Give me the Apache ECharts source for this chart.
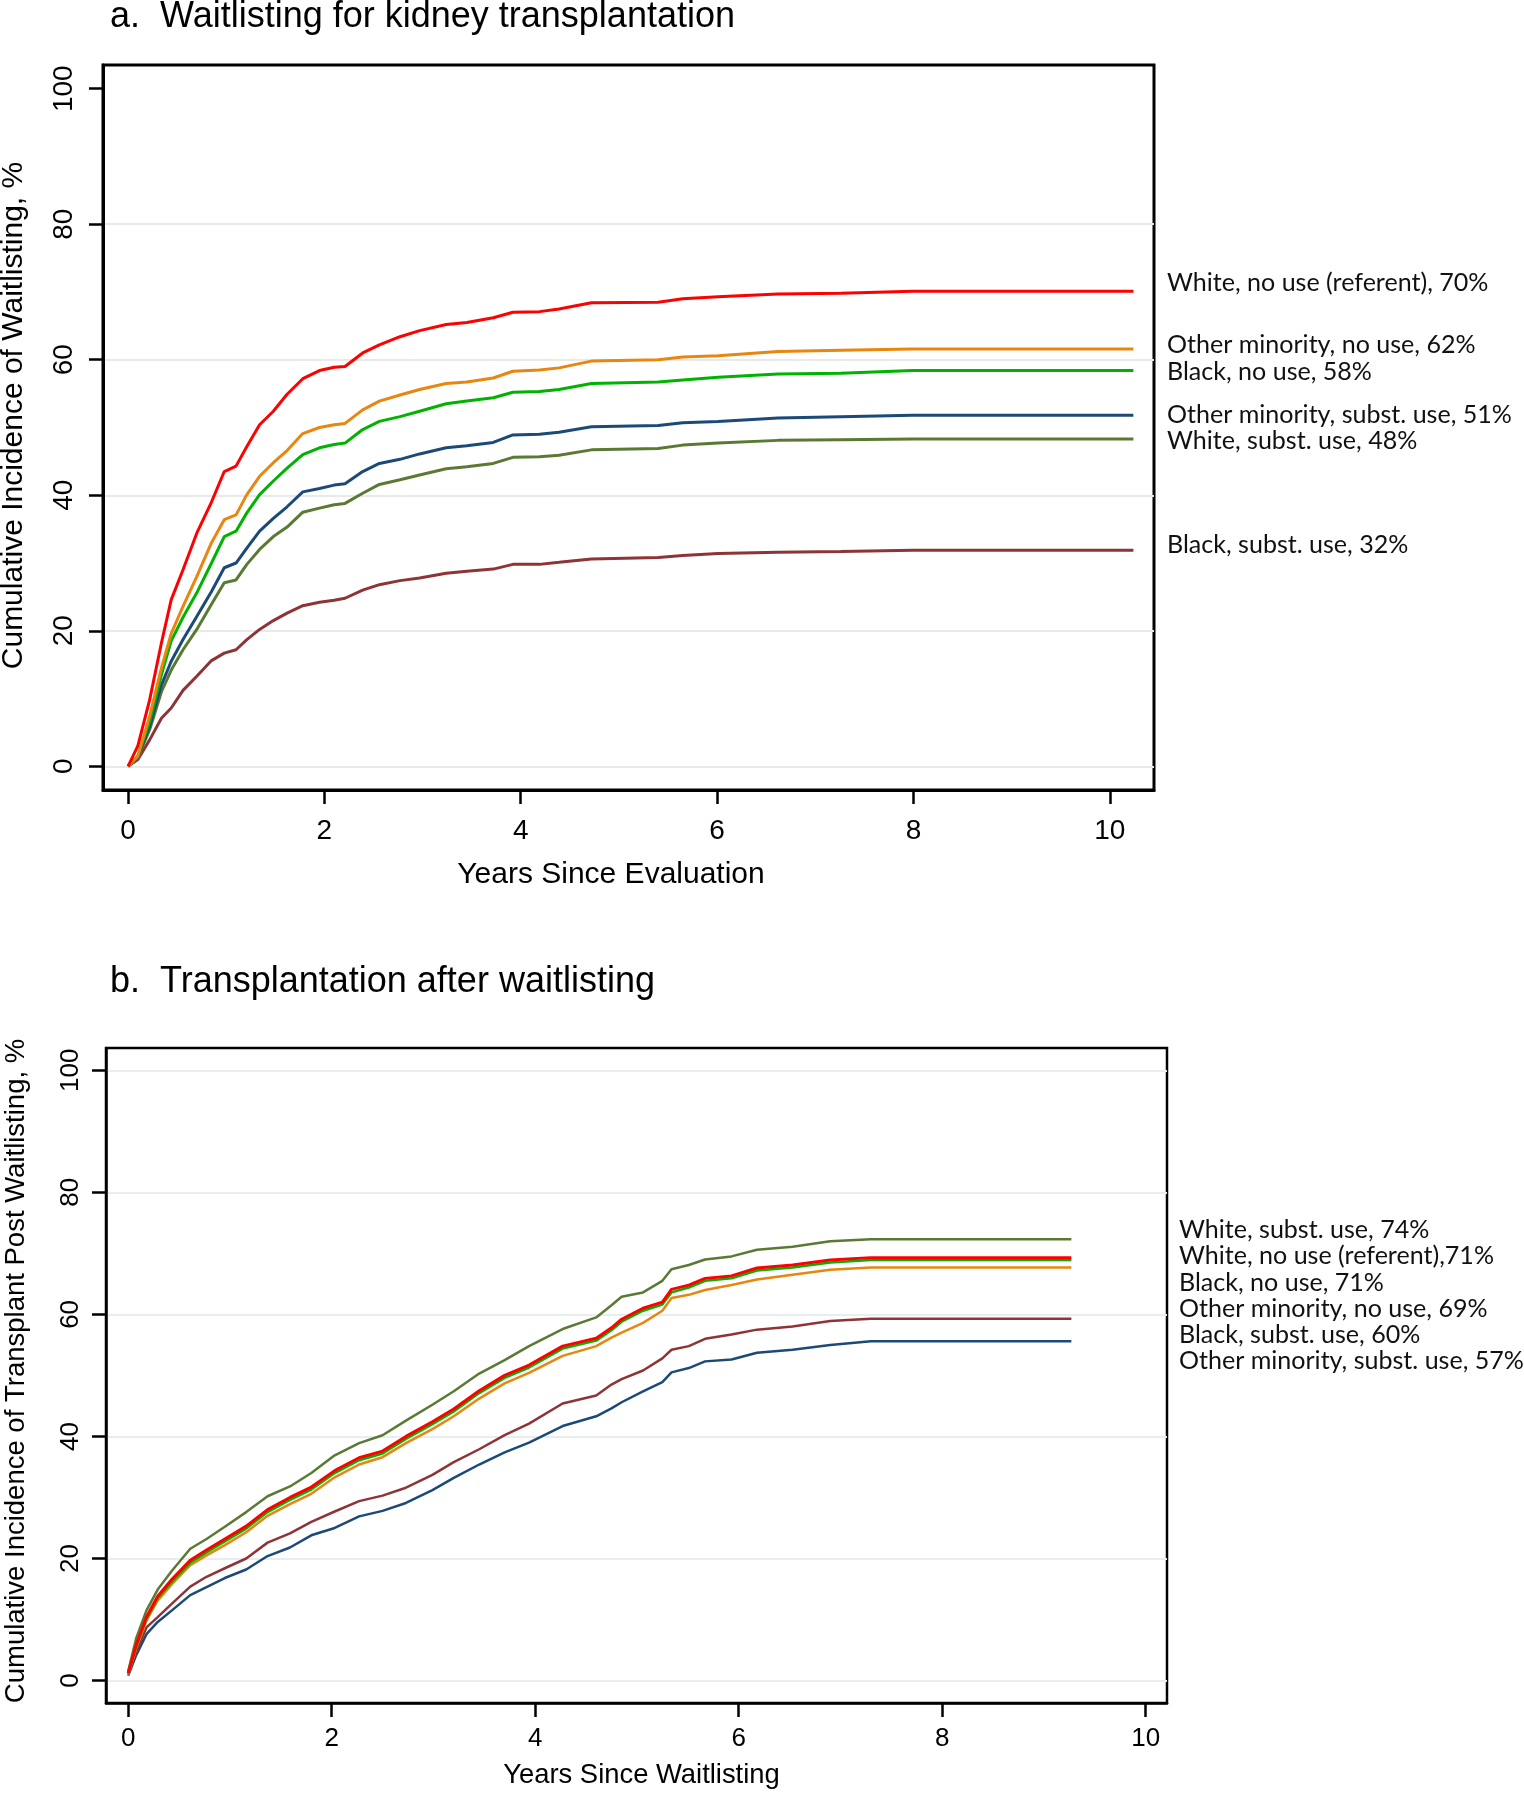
<!DOCTYPE html>
<html><head><meta charset="utf-8">
<script src="https://cdn.jsdelivr.net/npm/echarts@6/dist/echarts.min.js"></script>
<style>html,body{margin:0;padding:0;background:#fff}#c{width:1524px;height:1800px}</style>
</head><body><div id="c"></div>
<script>
// ---------- data ----------
const xTickValues = [0, 2, 4, 6, 8, 10];
const yTickValues = [0, 20, 40, 60, 80, 100];

const groups = ['White, no use (referent)', 'Other minority, no use', 'Black, no use',
                'Other minority, subst. use', 'White, subst. use', 'Black, subst. use'];

// Panel a: waitlisting (years since evaluation)
const timeA = [0, 0.1, 0.22, 0.34, 0.44, 0.56, 0.70, 0.85, 0.98, 1.10, 1.21, 1.34, 1.48, 1.62, 1.78, 1.95, 2.10, 2.21, 2.39, 2.56, 2.77, 2.97, 3.24, 3.45, 3.72, 3.92, 4.19, 4.39, 4.72, 5.40, 5.65, 6.01, 6.62, 7.26, 7.99, 10.24];
const whiteNoUseA   = [0, 3.0, 9.8, 18.2, 24.6, 29.0, 34.4, 39.0, 43.5, 44.3, 47.2, 50.4, 52.4, 54.9, 57.2, 58.4, 58.9, 59.0, 61.0, 62.2, 63.4, 64.3, 65.2, 65.5, 66.2, 67.0, 67.1, 67.5, 68.4, 68.5, 69.0, 69.3, 69.7, 69.8, 70.1, 70.1];
const otherNoUseA   = [0, 1.5, 7.4, 14.5, 19.6, 23.6, 28.0, 33.0, 36.4, 37.1, 40.1, 42.8, 44.8, 46.6, 49.1, 50.0, 50.4, 50.6, 52.6, 53.9, 54.8, 55.6, 56.5, 56.7, 57.3, 58.3, 58.5, 58.8, 59.8, 60.0, 60.4, 60.6, 61.2, 61.4, 61.6, 61.6];
const blackNoUseA   = [0, 1.5, 6.6, 13.5, 18.5, 22.0, 25.6, 30.0, 33.9, 34.7, 37.4, 40.1, 42.1, 44.0, 46.0, 47.0, 47.5, 47.7, 49.7, 50.9, 51.6, 52.4, 53.5, 53.9, 54.4, 55.2, 55.3, 55.6, 56.5, 56.7, 57.0, 57.4, 57.9, 58.0, 58.4, 58.4];
const otherSubstA   = [0, 1.4, 5.9, 12.0, 15.5, 18.7, 22.1, 25.8, 29.3, 30.0, 32.2, 34.7, 36.6, 38.3, 40.5, 41.0, 41.5, 41.7, 43.5, 44.7, 45.3, 46.1, 47.0, 47.3, 47.8, 48.9, 49.0, 49.3, 50.1, 50.3, 50.7, 50.9, 51.4, 51.6, 51.8, 51.8];
const whiteSubstA   = [0, 1.3, 5.4, 11.0, 14.2, 17.2, 20.2, 23.9, 27.1, 27.5, 29.8, 32.0, 33.9, 35.3, 37.5, 38.1, 38.6, 38.8, 40.3, 41.6, 42.3, 43.0, 43.9, 44.2, 44.7, 45.6, 45.7, 45.9, 46.7, 46.9, 47.4, 47.7, 48.1, 48.2, 48.3, 48.3];
const blackSubstA   = [0, 1.0, 3.9, 7.1, 8.6, 11.2, 13.3, 15.6, 16.7, 17.2, 18.7, 20.2, 21.5, 22.6, 23.7, 24.2, 24.5, 24.8, 26.0, 26.8, 27.4, 27.8, 28.5, 28.8, 29.1, 29.8, 29.8, 30.1, 30.6, 30.8, 31.1, 31.4, 31.6, 31.7, 31.9, 31.9];

// Panel b: transplantation (years since waitlisting)
const timeB = [0, 0.08, 0.18, 0.29, 0.43, 0.61, 0.77, 0.95, 1.16, 1.37, 1.59, 1.80, 2.03, 2.27, 2.50, 2.73, 2.99, 3.20, 3.45, 3.70, 3.94, 4.27, 4.60, 4.75, 4.85, 5.06, 5.25, 5.34, 5.51, 5.67, 5.93, 6.18, 6.53, 6.90, 7.30, 9.27];
const whiteSubstB   = [1.5, 7.0, 11.5, 14.9, 18.0, 21.6, 23.2, 25.2, 27.6, 30.2, 31.8, 34.0, 36.9, 38.9, 40.2, 42.6, 45.2, 47.4, 50.3, 52.5, 54.8, 57.6, 59.5, 61.5, 62.9, 63.6, 65.5, 67.4, 68.1, 69.0, 69.5, 70.6, 71.1, 72.0, 72.3, 72.3];
const whiteNoUseB   = [1.2, 5.9, 10.4, 13.8, 16.6, 19.7, 21.4, 23.2, 25.3, 28.0, 30.0, 31.7, 34.4, 36.5, 37.6, 40.0, 42.4, 44.5, 47.5, 50.0, 51.7, 54.8, 56.1, 57.8, 59.2, 61.0, 62.0, 64.1, 64.8, 65.9, 66.3, 67.6, 68.1, 68.9, 69.3, 69.3];
const blackNoUseB   = [1.2, 5.7, 10.1, 13.5, 16.2, 19.3, 21.0, 22.8, 24.9, 27.6, 29.6, 31.3, 34.0, 36.1, 37.2, 39.6, 42.0, 44.1, 47.1, 49.6, 51.3, 54.4, 55.7, 57.4, 58.8, 60.6, 61.6, 63.6, 64.4, 65.5, 65.9, 67.2, 67.7, 68.5, 68.9, 68.9];
const otherNoUseB   = [1.0, 5.4, 9.8, 13.1, 15.8, 18.9, 20.5, 22.2, 24.3, 27.0, 28.9, 30.6, 33.3, 35.4, 36.6, 38.9, 41.2, 43.3, 46.2, 48.7, 50.4, 53.2, 54.8, 56.2, 57.0, 58.6, 60.6, 62.7, 63.2, 64.0, 64.8, 65.7, 66.5, 67.3, 67.7, 67.7];
const blackSubstB   = [1.2, 4.8, 8.7, 10.4, 12.6, 15.4, 17.0, 18.4, 20.0, 22.6, 24.1, 26.0, 27.7, 29.4, 30.3, 31.6, 33.7, 35.8, 37.9, 40.2, 42.1, 45.4, 46.7, 48.5, 49.4, 50.8, 52.8, 54.2, 54.8, 56.0, 56.7, 57.5, 58.0, 58.9, 59.3, 59.3];
const otherSubstB   = [0.8, 4.2, 7.6, 9.6, 11.5, 14.0, 15.3, 16.8, 18.2, 20.4, 21.8, 23.8, 25.0, 26.9, 27.8, 29.1, 31.2, 33.2, 35.4, 37.4, 39.0, 41.7, 43.3, 44.6, 45.6, 47.4, 48.9, 50.5, 51.2, 52.3, 52.6, 53.7, 54.2, 55.0, 55.6, 55.6];

const labelsA = ['White, no use (referent), 70%', 'Other minority, no use, 62%', 'Black, no use, 58%',
                 'Other minority, subst. use, 51%', 'White, subst. use, 48%', 'Black, subst. use, 32%'];
const labelsB = ['White, subst. use, 74%', 'White, no use (referent),71%', 'Black, no use, 71%',
                 'Other minority, no use, 69%', 'Black, subst. use, 60%', 'Other minority, subst. use, 57%'];

const titleA = 'a.  Waitlisting for kidney transplantation';
const titleB = 'b.  Transplantation after waitlisting';
const xNameA = 'Years Since Evaluation';
const xNameB = 'Years Since Waitlisting';
const yNameA = 'Cumulative Incidence of Waitlisting, %';
const yNameB = 'Cumulative Incidence of Transplant Post Waitlisting, %';

// ---------- styles ----------
const COL = {
  'White, no use (referent)': '#ff0000',
  'Other minority, no use': '#e9860f',
  'Black, no use': '#00b300',
  'Other minority, subst. use': '#1c4a78',
  'White, subst. use': '#5a7a34',
  'Black, subst. use': '#8e3437'
};
const SANS = "'Liberation Sans', Arial, sans-serif";
const ANNOT = "Lato, 'Open Sans', sans-serif";

// fit annotation font size to target width of longest label
function fitSize(text, family, target) {
  const c = document.createElement('canvas').getContext('2d');
  c.font = '100px ' + family;
  return 100 * target / c.measureText(text).width;
}
const annotSize = fitSize('Other minority, subst. use, 51%', ANNOT, 345);

const chart = echarts.init(document.getElementById('c'), null, {renderer: 'canvas'});

function xAxisCfg(gi, min, max, lw, name, nameGap, fs, nfs, margin, pad) {
  return {
    type: 'value', gridIndex: gi, min: min, max: max,
    name: name, nameLocation: 'middle', nameGap: nameGap,
    nameTextStyle: {fontFamily: SANS, fontSize: nfs, color: '#000', padding: pad},
    axisLine: {show: true, onZero: false, lineStyle: {color: '#000', width: lw}},
    axisTick: {show: true, customValues: xTickValues, length: 14, lineStyle: {color: '#000', width: 2.5}},
    axisLabel: {customValues: xTickValues, fontFamily: SANS, fontSize: fs, color: '#000', margin: margin},
    splitLine: {show: false}
  };
}
function yAxisCfg(gi, min, max, lw, name, nameGap, fs, nfs, margin, pad, gridColors) {
  return {
    type: 'value', gridIndex: gi, min: min, max: max,
    name: name, nameLocation: 'middle', nameGap: nameGap, nameRotate: 90,
    nameTextStyle: {fontFamily: SANS, fontSize: nfs, color: '#000', padding: pad},
    axisLine: {show: true, onZero: false, lineStyle: {color: '#000', width: lw}},
    axisTick: {show: true, customValues: yTickValues, length: 14, lineStyle: {color: '#000', width: 2.5}},
    axisLabel: {customValues: yTickValues, rotate: 90, fontFamily: SANS, fontSize: fs, color: '#000', margin: margin},
    splitLine: {show: true, lineStyle: {color: gridColors, width: 2}}
  };
}

function line(name, t, v, gi, w) {
  return {
    type: 'line', name: name, xAxisIndex: gi, yAxisIndex: gi,
    data: t.map((x, i) => [x, v[i]]),
    showSymbol: false, symbol: 'none', silent: true,
    lineStyle: {color: COL[name], width: w}, itemStyle: {color: COL[name]},
    z: 3
  };
}

const graphics = [];
graphics.push({type: 'text', left: 110, top: -1, style: {text: titleA, font: '36px ' + SANS, fill: '#000'}});
graphics.push({type: 'text', left: 110, top: 964, style: {text: titleB, font: '36px ' + SANS, fill: '#000'}});
const annotYA = [283.3, 345.3, 371.7, 414.7, 440.7, 545];
const annotYB = [1230, 1256.2, 1282.5, 1308.7, 1335, 1361];
labelsA.forEach((s, i) => graphics.push({type: 'text', x: 1167, y: annotYA[i],
  style: {text: s, font: annotSize.toFixed(2) + 'px ' + ANNOT, fill: '#111', verticalAlign: 'middle'}}));
labelsB.forEach((s, i) => graphics.push({type: 'text', x: 1179, y: annotYB[i],
  style: {text: s, font: annotSize.toFixed(2) + 'px ' + ANNOT, fill: '#111', verticalAlign: 'middle'}}));

const gcA = ['#e9e9e9', '#e9e9e9', '#e9e9e9', '#e9e9e9', '#e9e9e9', 'rgba(0,0,0,0)'];
const gcB = ['#e8edef'];

chart.setOption({
  animation: false,
  backgroundColor: '#fff',
  grid: [
    {left: 103, top: 65, width: 1051, height: 725, show: true, borderColor: '#000', borderWidth: 3,
     backgroundColor: 'rgba(0,0,0,0)', containLabel: false, outerBoundsMode: 'none'},
    {left: 106, top: 1048, width: 1061, height: 655, show: true, borderColor: '#000', borderWidth: 2.5,
     backgroundColor: 'rgba(0,0,0,0)', containLabel: false, outerBoundsMode: 'none'}
  ],
  xAxis: [
    xAxisCfg(0, -0.255, 10.45, 3, xNameA, 70, 28, 30, 27, [0, 35, 0, 0]),
    xAxisCfg(1, -0.218, 10.21, 2.5, xNameB, 59, 26, 27.4, 23, [0, 0, 0, 10])
  ],
  yAxis: [
    yAxisCfg(0, -3.5, 103.5, 3, yNameA, 74, 28, 30, 25, [0, 0, 0, 24], gcA),
    yAxisCfg(1, -3.68, 103.65, 2.5, yNameB, 76, 26, 27.5, 22, [0, 0, 0, 9], gcB)
  ],
  series: [
    line(groups[5], timeA, blackSubstA, 0, 3),
    line(groups[4], timeA, whiteSubstA, 0, 3),
    line(groups[3], timeA, otherSubstA, 0, 3),
    line(groups[2], timeA, blackNoUseA, 0, 3),
    line(groups[1], timeA, otherNoUseA, 0, 3),
    line(groups[0], timeA, whiteNoUseA, 0, 3),
    line(groups[3], timeB, otherSubstB, 1, 2.5),
    line(groups[5], timeB, blackSubstB, 1, 2.5),
    line(groups[4], timeB, whiteSubstB, 1, 2.5),
    line(groups[1], timeB, otherNoUseB, 1, 2.5),
    line(groups[2], timeB, blackNoUseB, 1, 2.5),
    line(groups[0], timeB, whiteNoUseB, 1, 3)
  ],
  graphic: graphics
});
</script>
</body></html>
